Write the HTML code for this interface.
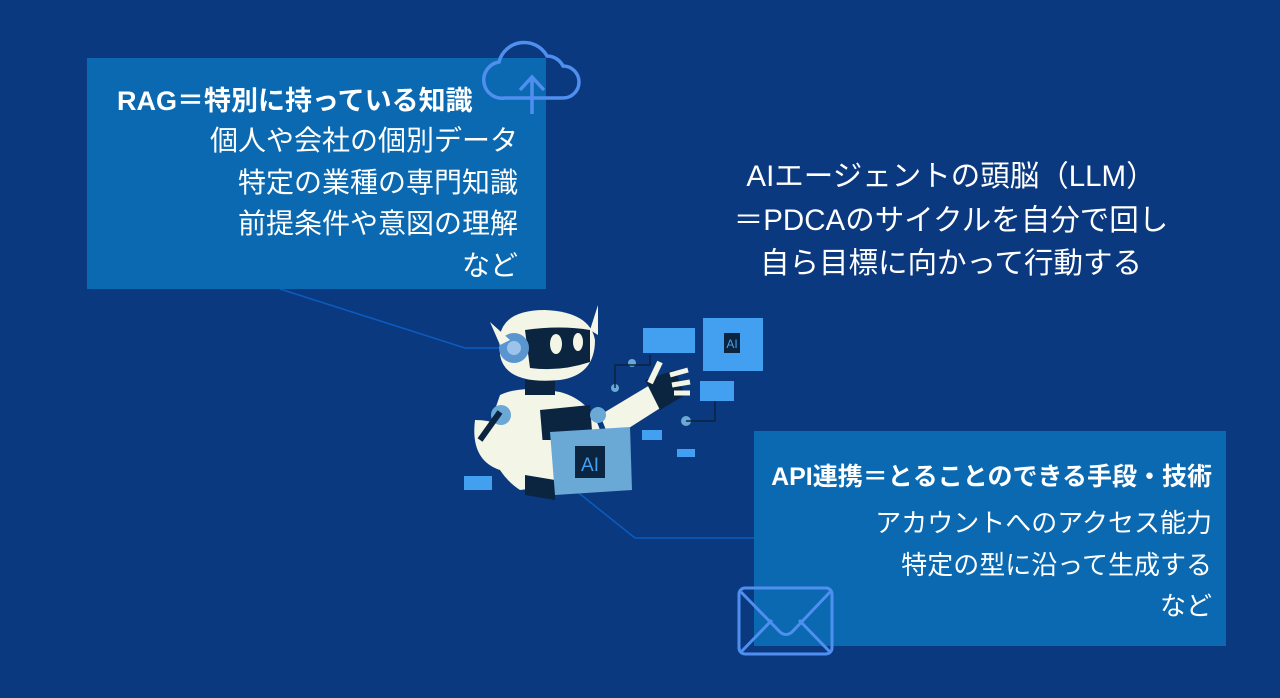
<!DOCTYPE html>
<html><head><meta charset="utf-8"><style>
html,body{margin:0;padding:0}
body{width:1280px;height:698px;background:#0b397f;position:relative;overflow:hidden;font-family:"Liberation Sans","Noto Sans CJK JP",sans-serif;color:#fff}
.box{position:absolute;background:#0a69b0}
.t{position:absolute;white-space:nowrap;line-height:1}
</style></head><body>
<svg width="1280" height="698" style="position:absolute;left:0;top:0">
<line x1="280" y1="289" x2="465" y2="348" stroke="#0b5cc0" stroke-width="1.5"/>
<polyline points="465,348 505,348" fill="none" stroke="#0b5cc0" stroke-width="1.5"/>
<polyline points="560,478 635,538 754,538" fill="none" stroke="#0b5cc0" stroke-width="1.5"/>
</svg>
<div class="box" style="left:87px;top:58px;width:459px;height:231px"></div>
<div class="box" style="left:754px;top:431px;width:472px;height:215px"></div>
<svg width="1280" height="698" style="position:absolute;left:0;top:0">
<path d="M505 98 h58 a16 16 0 0 0 0-32 a18 18 0 0 0-16-10 a26 26 0 0 0-48 6 a18 18 0 0 0 6 36z" fill="none" stroke="#4f8ff0" stroke-width="3.5"/>
<path d="M532 114 V78 M520 90 L532 77 L544 90" fill="none" stroke="#4f8ff0" stroke-width="3.5"/>
<rect x="739" y="588" width="93" height="66" rx="6" fill="none" stroke="#4f8ff0" stroke-width="3"/>
<path d="M741 592 L780 632 Q786 637 792 632 L830 592 M741 652 L772 620 M830 652 L799 620" fill="none" stroke="#4f8ff0" stroke-width="3"/>
<rect x="643" y="328" width="52" height="25" fill="#43a0f0"/>
<rect x="703" y="318" width="60" height="53" fill="#43a0f0"/>
<rect x="724" y="333" width="16" height="20" fill="#0b2440"/>
<text x="732" y="348" font-size="12" fill="#43a0f0" text-anchor="middle" font-family="Liberation Sans">AI</text>
<rect x="700" y="381" width="34" height="20" fill="#43a0f0"/>
<rect x="642" y="430" width="20" height="10" fill="#43a0f0"/>
<rect x="677" y="449" width="18" height="8" fill="#43a0f0"/>
<rect x="464" y="476" width="28" height="14" fill="#43a0f0"/>
<circle cx="632" cy="363" r="4" fill="#6aa8d6"/><circle cx="615" cy="388" r="4" fill="#6aa8d6"/>
<circle cx="686" cy="421" r="5" fill="#6aa8d6"/>
<path d="M615 388 V365 H650 V355 M686 421 H715 V401" fill="none" stroke="#0b2440" stroke-width="1.5"/>
<path d="M500 395 Q520 385 560 392 Q590 400 600 430 L600 480 L520 490 Q490 470 488 430 Z" fill="#f3f5e6"/>
<path d="M540 410 L590 405 L595 470 L545 470 Z" fill="#0b2440"/>
<rect x="525" y="380" width="30" height="15" fill="#0b2440"/>
<path d="M500 335 Q505 310 545 310 Q590 312 595 340 Q595 375 560 380 Q505 385 500 355 Z" fill="#f3f5e6"/>
<path d="M525 330 Q560 325 590 330 L590 362 Q560 372 530 368 Z" fill="#0b2440"/>
<ellipse cx="556" cy="344" rx="6" ry="10" fill="#f3f5e6"/><ellipse cx="578" cy="342" rx="5" ry="9" fill="#f3f5e6"/>
<circle cx="514" cy="348" r="15" fill="#5a95cf"/><circle cx="514" cy="348" r="7" fill="#9cc4ea"/>
<path d="M490 322 L500 345 L510 340Z M598 305 L590 330 L598 335Z" fill="#f3f5e6"/>
<path d="M600 415 L650 385 L665 405 L610 440 Z" fill="#f3f5e6"/>
<path d="M645 380 L675 370 L685 395 L660 410Z" fill="#0b2440"/>
<path d="M670 375 L688 370 M672 385 L690 382 M674 393 L690 393" stroke="#f3f5e6" stroke-width="5"/>
<path d="M650 383 L660 362" stroke="#f3f5e6" stroke-width="6"/>
<circle cx="598" cy="415" r="8" fill="#6aa8d6"/>
<path d="M475 420 Q470 460 500 470 L560 470 L560 440 L510 440 Q505 420 475 420Z" fill="#f3f5e6"/>
<circle cx="501" cy="415" r="10" fill="#6aa8d6"/>
<path d="M480 440 L500 412" stroke="#0b2440" stroke-width="6"/>
<path d="M525 475 L555 480 L555 500 L525 495Z" fill="#0b2440"/>
<path d="M550 432 L630 427 L632 490 L555 495 Z" fill="#6aa8d6"/>
<rect x="575" y="446" width="30" height="32" fill="#0b2440"/>
<text x="590" y="471" font-size="19" fill="#43a0f0" text-anchor="middle" font-family="Liberation Sans">AI</text>
</svg>
<div class="t" style="left:117px;top:88px;font-size:27px;font-weight:bold">RAG＝特別に持っている知識</div>
<div class="t" style="right:762px;top:120px;font-size:28px;text-align:right;line-height:41.5px">個人や会社の個別データ<br>特定の業種の専門知識<br>前提条件や意図の理解<br>など</div>
<div class="t" style="left:700px;width:502px;top:155px;font-size:29.5px;text-align:center;line-height:43.5px">AIエージェントの頭脳（LLM）<br>＝PDCAのサイクルを自分で回し<br>自ら目標に向かって行動する</div>
<div class="t" style="right:68px;top:465px;font-size:25px;font-weight:bold">API連携＝とることのできる手段・技術</div>
<div class="t" style="right:68px;top:503px;font-size:26px;text-align:right;line-height:41.5px">アカウントへのアクセス能力<br>特定の型に沿って生成する<br>など</div>
</body></html>
